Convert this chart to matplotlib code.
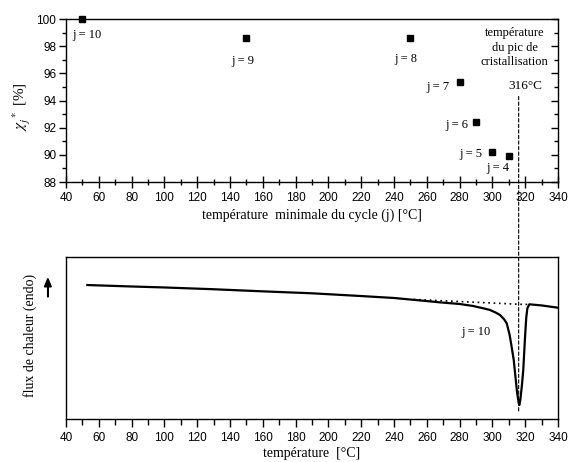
import numpy as np
import matplotlib
matplotlib.use('Agg')
import matplotlib.pyplot as plt
from matplotlib.patches import ConnectionPatch, FancyArrow
from matplotlib.ticker import MultipleLocator

# top panel: crystallinity vs minimal cycle temperature
cycle_j = [10, 9, 8, 7, 6, 5, 4]
t_min = [50, 150, 250, 280, 290, 300, 310]
chi = [100.0, 98.6, 98.6, 95.4, 92.4, 90.2, 89.9]

# bottom panel: DSC trace for j = 10 (arbitrary units)
dsc_t = [53, 80, 100, 130, 160, 190, 220, 240, 260, 268, 280, 288, 295, 298.5,
         302, 304.6, 307, 308.7, 310.5, 311.7, 313, 313.8, 315, 316, 316.4, 317,
         318, 318.8, 319.9, 320.6, 321.3, 322.5, 330, 340]
dsc_flux = [8.27, 8.18, 8.12, 8.01, 7.88, 7.76, 7.59, 7.47, 7.28, 7.20, 7.10, 6.98,
            6.82, 6.73, 6.57, 6.42, 6.17, 5.91, 5.19, 4.46, 3.64, 2.84, 1.67, 0.99,
            0.86, 1.17, 2.10, 3.02, 5.08, 6.23, 6.83, 7.08, 7.01, 6.87]
base_t = [252, 317, 322]
base_flux = [7.38, 7.08, 7.07]
t_peak = 316

serif = ['Liberation Serif', 'DejaVu Serif']
sans = ['Liberation Sans', 'DejaVu Sans']
plt.rcParams['font.family'] = sans
plt.rcParams['xtick.labelsize'] = 8.5
plt.rcParams['ytick.labelsize'] = 8.5

fig = plt.figure(figsize=(5.7, 4.62), dpi=100)
ax1 = fig.add_axes([0.1158, 0.606, 0.8632, 0.3528])
ax2 = fig.add_axes([0.1158, 0.0931, 0.8632, 0.3506])

# --- top panel
ax1.plot(t_min, chi, 's', color='black', markersize=5, clip_on=False, zorder=5)
ax1.set_xlim(40, 340)
ax1.set_ylim(88, 100)
ax1.xaxis.set_major_locator(MultipleLocator(20))
ax1.xaxis.set_minor_locator(MultipleLocator(10))
ax1.yaxis.set_major_locator(MultipleLocator(2))
ax1.yaxis.set_minor_locator(MultipleLocator(1))
ax1.tick_params(axis='x', which='major', direction='inout', length=9, width=1, pad=3)
ax1.tick_params(axis='x', which='minor', direction='inout', length=5, width=1)
ax1.tick_params(axis='y', which='major', direction='out', length=5, width=1,
                right=True, pad=2)
ax1.tick_params(axis='y', which='minor', direction='out', length=3, width=1,
                right=True)
# right ticks point inward
for tk in ax1.yaxis.get_major_ticks() + ax1.yaxis.get_minor_ticks():
    tk.tick2line.set_marker(matplotlib.lines.TICKLEFT)
ax1.set_xlabel('température  minimale du cycle (j) [°C]', family=serif,
               fontsize=10, labelpad=3)
fig.text(0.038, 0.77, r'$\chi_j^{\ *}$ [%]', rotation=90, ha='center',
         va='center', family=serif, fontsize=11, math_fontfamily='stix')

label_pos = [(53, 98.8, 'center'), (148, 96.9, 'center'), (247, 97.05, 'center'),
             (274, 95.0, 'right'), (285, 92.2, 'right'), (294, 90.07, 'right'),
             (303, 89.0, 'center')]
for j, (x, y, ha) in zip(cycle_j, label_pos):
    ax1.text(x, y, f'j = {j}', ha=ha, va='center', family=serif, fontsize=9)

ax1.text(313.5, 97.9, 'température\ndu pic de\ncristallisation', ha='center',
         va='center', family=serif, fontsize=9, linespacing=1.25)
ax1.text(320, 95.1, f'{t_peak}°C', ha='center', va='center', family=serif,
         fontsize=9.5)

# --- bottom panel
ax2.plot(dsc_t, dsc_flux, color='black', linewidth=1.6)
ax2.plot(base_t, base_flux, color='black', linewidth=1.2, linestyle=(0, (1, 2.2)))
ax2.set_xlim(40, 340)
ax2.set_ylim(0, 10)
ax2.set_yticks([])
ax2.xaxis.set_major_locator(MultipleLocator(20))
ax2.xaxis.set_minor_locator(MultipleLocator(10))
ax2.tick_params(axis='x', which='major', direction='out', length=6, width=1)
ax2.tick_params(axis='x', which='minor', direction='out', length=4, width=1)
ax2.set_xlabel('température  [°C]', family=serif, fontsize=10, labelpad=2)
ax2.text(290, 5.37, 'j = 10', ha='center', va='center', family=serif, fontsize=9)

fig.text(0.053, 0.275, 'flux de chaleur (endo)', rotation=90, ha='center',
         va='center', family=serif, fontsize=10)
fig.patches.append(FancyArrow(
    0.084, 1 - 297 / 462, 0, 0.04, width=0.0008, head_width=0.012,
    head_length=0.018, length_includes_head=True, color='black',
    transform=fig.transFigure, figure=fig))

# dashed line linking the peak temperature across both panels
con = ConnectionPatch(xyA=(t_peak, 94.3), coordsA=ax1.transData,
                      xyB=(t_peak, 0.4), coordsB=ax2.transData,
                      color='black', linewidth=0.8, linestyle=(0, (3, 2)))
fig.add_artist(con)

for ax in (ax1, ax2):
    for sp in ax.spines.values():
        sp.set_linewidth(1)

fig.savefig('out.png', dpi=100)
